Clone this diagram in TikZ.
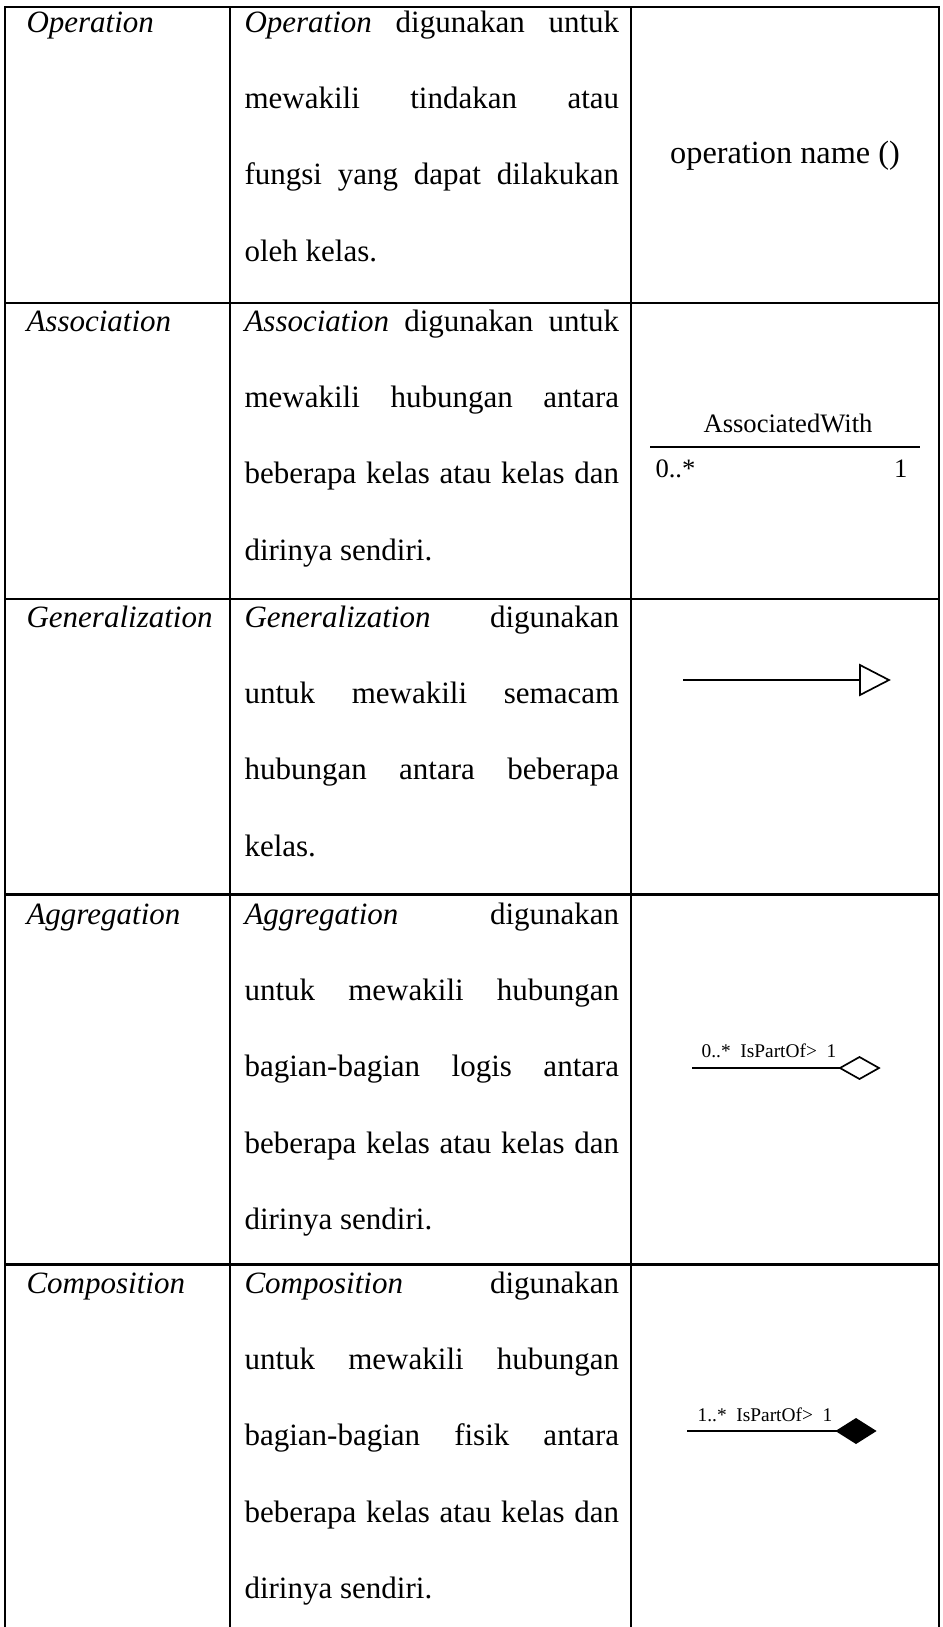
\documentclass[tikz,border=0pt]{standalone}
\usepackage{fontspec}
\setmainfont{Liberation Serif}
\tolerance=10000
\hbadness=10000
\hyphenpenalty=10000
\tikzset{
GRID/.style ={draw=black,line width=1.15pt,line cap=rect},
UML/.style ={draw=black,line width=0.65pt},
NAME/.style={anchor=base west,inner sep=0pt,font=\fontsize{12}{29.6}\selectfont\itshape},
DESC/.style={anchor=base west,inner sep=0pt,text width=145pt,align=justify,
  font=\fontsize{12}{29.6}\selectfont},
SMALL/.style={inner sep=0pt,font=\fontsize{7.5}{9}\selectfont},
}

\begin{document}
\begin{tikzpicture}[x=0.387pt,y=-0.387pt]
	\useasboundingbox (0,0) rectangle (943,1627);
	% table
	\path[GRID] (5,7) -- (939,7);
	\foreach \r in {303,599,894,1264}
		\path[GRID] (5,\r) -- (939,\r);
	\foreach \c in {5,230,631,939}
		\path[GRID] (\c,7) -- (\c,1640);
	% first column
	\node[NAME] (op) at (26,32) {Operation};
	\node[NAME] (as) at (26,331) {Association};
	\node[NAME] (ge) at (26,627) {Generalization};
	\node[NAME] (ag) at (26,924) {Aggregation};
	\node[NAME] (co) at (26,1293) {Composition};
	% second column
	\node[DESC] (op-desc) at (244,32) {\textit{Operation} digunakan untuk\linebreak
		mewakili tindakan atau\linebreak fungsi yang dapat dilakukan\linebreak oleh kelas.};
	\node[DESC] (as-desc) at (244,331) {\textit{Association} digunakan untuk\linebreak
		mewakili hubungan antara\linebreak beberapa kelas atau kelas dan\linebreak dirinya sendiri.};
	\node[DESC] (ge-desc) at (244,627) {\textit{Generalization} digunakan\linebreak
		untuk mewakili semacam\linebreak hubungan antara beberapa\linebreak kelas.};
	\node[DESC] (ag-desc) at (244,924) {\textit{Aggregation} digunakan\linebreak
		untuk mewakili hubungan\linebreak bagian-bagian logis antara\linebreak
		beberapa kelas atau kelas dan\linebreak dirinya sendiri.};
	\node[DESC] (co-desc) at (244,1293) {\textit{Composition} digunakan\linebreak
		untuk mewakili hubungan\linebreak bagian-bagian fisik antara\linebreak
		beberapa kelas atau kelas dan\linebreak dirinya sendiri.};
	% third column: operation
	\node[anchor=base,inner sep=0pt,font=\fontsize{12.5}{14}\selectfont] (op-sym) at (785,163) {operation name ()};
	% association
	\path[UML] (650,447) -- (920,447);
	\node[anchor=base,inner sep=0pt,font=\fontsize{10.3}{12}\selectfont] (as-lbl) at (788,432) {AssociatedWith};
	\node[anchor=base west,inner sep=0pt,font=\fontsize{10.3}{12}\selectfont] (as-m1) at (655,477) {0..*};
	\node[anchor=base east,inner sep=0pt,font=\fontsize{10.3}{12}\selectfont] (as-m2) at (908,477) {1};
	% generalization
	\path[UML] (683,680) -- (860,680);
	\path[UML,line join=miter] (860,665) -- (889,680) -- (860,695) -- cycle;
	% aggregation
	\path[UML] (692,1068) -- (840,1068);
	\path[UML] (840,1068) -- (859.5,1057) -- (879,1068) -- (859.5,1079) -- cycle;
	\node[SMALL,anchor=base] (ag-lbl) at (769,1057) {0..*\ \ IsPartOf>\ \ 1};
	% composition
	\path[UML] (687,1431) -- (837,1431);
	\path[UML,fill=black] (837,1431) -- (856,1419) -- (875,1431) -- (856,1443) -- cycle;
	\node[SMALL,anchor=base] (co-lbl) at (765,1421) {1..*\ \ IsPartOf>\ \ 1};
\end{tikzpicture}
\end{document}
